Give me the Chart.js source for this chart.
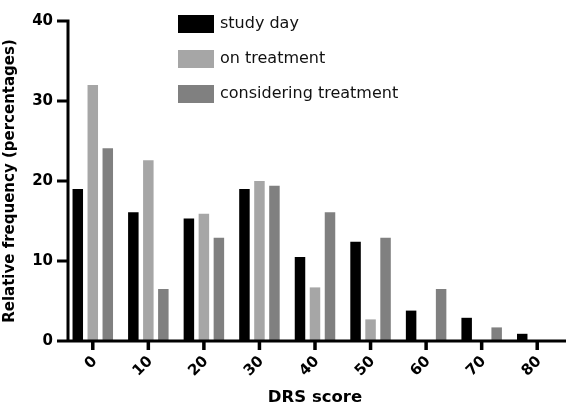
<!DOCTYPE html>
<html>
<head>
<meta charset="utf-8">
<script src="https://cdn.jsdelivr.net/npm/chart.js@4"></script>
<style>
  body { margin: 0; background: #fff; }
  #wrap { width: 566px; height: 410px; position: relative; }
</style>
</head>
<body>
<div id="wrap"><canvas id="chart"></canvas></div>
<script>
var scores = ['0', '10', '20', '30', '40', '50', '60', '70', '80'];
var studyDay = [19.0, 16.1, 15.3, 19.0, 10.5, 12.4, 3.8, 2.9, 0.9];
var onTreatment = [32.0, 22.6, 15.9, 20.0, 6.7, 2.7, 0, 0, 0];
var considering = [24.1, 6.5, 12.9, 19.4, 16.1, 12.9, 6.5, 1.7, 0];
var yTicks = [0, 10, 20, 30, 40];

var fontFamily = '"DejaVu Sans", "Liberation Sans", sans-serif';

// draws the axis lines, tick marks, rotated x labels and the legend box
var prismAxes = {
    id: 'prismAxes',
    afterDatasetsDraw: function (chart) {
        var ctx = chart.ctx;
        var x = chart.scales.x;
        var y = chart.scales.y;
        var area = chart.chartArea;
        var axisX = area.left + 3;
        var base = y.getPixelForValue(0);

        ctx.save();
        ctx.strokeStyle = '#000';
        ctx.lineWidth = 3;
        ctx.beginPath();
        ctx.moveTo(axisX, y.getPixelForValue(40) - 1.5);
        ctx.lineTo(axisX, base);
        ctx.moveTo(axisX - 11, base);
        ctx.lineTo(566, base);
        yTicks.forEach(function (v) {
            var py = y.getPixelForValue(v);
            ctx.moveTo(axisX - 11, py);
            ctx.lineTo(axisX, py);
        });
        ctx.stroke();

        ctx.lineWidth = 3.5;
        ctx.beginPath();
        scores.forEach(function (s, i) {
            var px = x.getPixelForValue(i);
            ctx.moveTo(px, base);
            ctx.lineTo(px, base + 9);
        });
        ctx.stroke();

        ctx.fillStyle = '#000';
        ctx.font = 'bold 15px ' + fontFamily;
        ctx.textAlign = 'right';
        ctx.textBaseline = 'middle';
        scores.forEach(function (s, i) {
            var px = x.getPixelForValue(i);
            ctx.save();
            ctx.translate(px + 2, base + 18);
            ctx.rotate(-Math.PI / 4);
            ctx.fillText(s, 0, 0);
            ctx.restore();
        });

        // legend
        ctx.font = '16px ' + fontFamily;
        ctx.textAlign = 'left';
        chart.data.datasets.forEach(function (ds, i) {
            var top = 15 + 35 * i;
            ctx.fillStyle = ds.backgroundColor;
            ctx.fillRect(178, top, 36, 18);
            ctx.fillStyle = '#111';
            ctx.fillText(ds.label, 220, top + 9);
        });
        ctx.restore();
    }
};

var ctx = document.getElementById('chart').getContext('2d');
var chart = new Chart(ctx, {
    type: 'bar',
    data: {
        labels: scores,
        datasets: [
            { label: 'study day', data: studyDay, backgroundColor: '#000000' },
            { label: 'on treatment', data: onTreatment, backgroundColor: '#a6a6a6' },
            { label: 'considering treatment', data: considering, backgroundColor: '#808080' }
        ]
    },
    options: {
        responsive: true,
        maintainAspectRatio: false,
        animation: false,
        layout: { padding: { top: 9, right: 1, bottom: 0, left: 1 } },
        datasets: {
            bar: { categoryPercentage: 0.81, barPercentage: 0.7 }
        },
        plugins: {
            legend: { display: false },
            tooltip: { enabled: false }
        },
        scales: {
            x: {
                offset: true,
                grid: { display: false, drawTicks: false },
                border: { display: false },
                ticks: { display: false },
                title: {
                    display: true,
                    text: 'DRS score',
                    color: '#000',
                    font: { family: fontFamily, size: 16.5, weight: 'bold' },
                    padding: { top: 0, bottom: 2 }
                },
                afterFit: function (scale) { scale.height = 69; }
            },
            y: {
                min: 0,
                max: 40,
                grid: { display: false, drawTicks: false },
                border: { display: false },
                ticks: {
                    stepSize: 10,
                    padding: 12,
                    color: '#000',
                    font: { family: fontFamily, size: 15, weight: 'bold' }
                },
                title: {
                    display: true,
                    text: 'Relative frequency (percentages)',
                    color: '#000',
                    font: { family: fontFamily, size: 15, weight: 'bold' },
                    padding: { top: 0, bottom: 0 }
                },
                afterFit: function (scale) { scale.width = 64; }
            }
        }
    },
    plugins: [prismAxes]
});
</script>
</body>
</html>
